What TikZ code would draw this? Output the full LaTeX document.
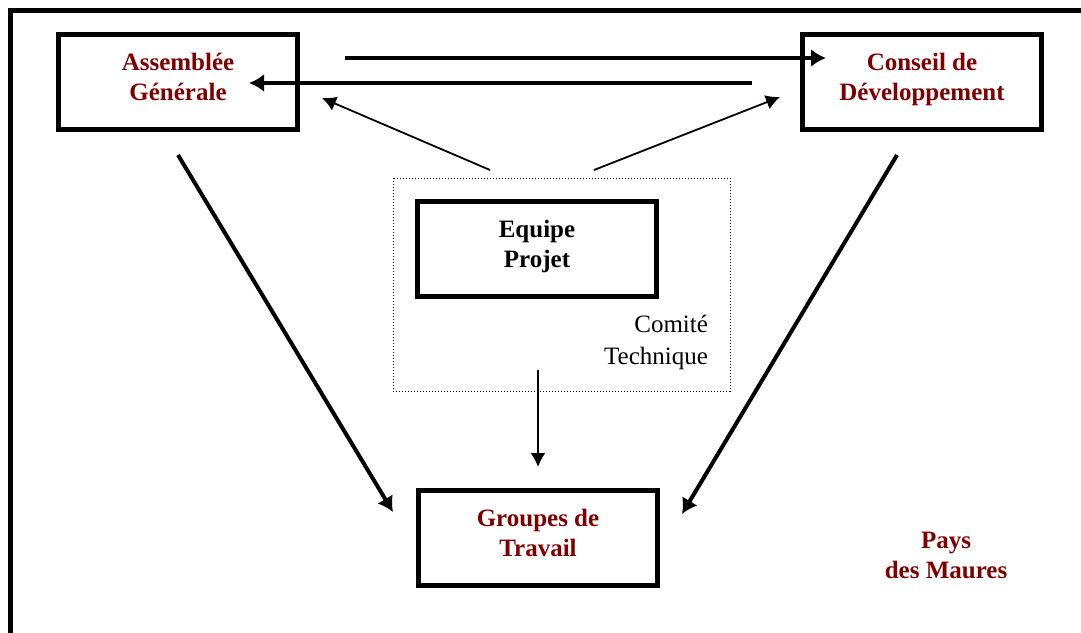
\documentclass[tikz,border=0pt]{standalone}
\usepackage{fontspec}
\setmainfont{Liberation Serif}
\usetikzlibrary{arrows.meta}
\definecolor{darkred}{RGB}{128,0,0}

\begin{document}
\begin{tikzpicture}[x=0.5pt,y=-0.5pt,>={Latex[length=7.5pt,width=9pt]},
	box/.style={draw,line width=2.5pt,minimum width=119.5pt,minimum height=47.5pt,text depth=5pt,align=center,font=\bfseries\fontsize{12.5}{15}\selectfont},
	bigarrow/.style={line width=2pt,->},
	smallarrow/.style={line width=0.9pt,-{Latex[length=7pt,width=7.5pt]}}]
	\clip (0,0) rectangle (1081,632);
	\draw [line width=2.5pt] (10,10) rectangle (1110,660);
	\draw [line width=0.5pt, dash pattern = on 0.5pt off 1pt] (393,178) rectangle (730,391);
	\node [box, text=darkred] (ag) at (178,82) {Assemblée\\Générale};
	\node [box, text=darkred] (cd) at (922,82) {Conseil de\\Développement};
	\node [box] (ep) at (537,249) {Equipe\\Projet};
	\node [box, text=darkred] (gt) at (538,538) {Groupes de\\Travail};
	\node [anchor=east, align=right, font=\fontsize{12.5}{16}\selectfont] (ct) at (715,342) {Comité\\Technique};
	\node [align=center, text=darkred, font=\bfseries\fontsize{12.5}{15}\selectfont] (pm) at (946,555) {Pays\\des Maures};
	% fleches entre AG et CD
	\coordinate (a1) at (345,58); \coordinate (a2) at (826,58);
	\coordinate (b1) at (752,83); \coordinate (b2) at (249,83);
	\draw [bigarrow] (a1) -- (a2);
	\draw [bigarrow] (b1) -- (b2);
	% comite technique
	\coordinate (c1) at (490,170); \coordinate (c2) at (322,98);
	\coordinate (d1) at (594,170); \coordinate (d2) at (780,97);
	\draw [smallarrow] (c1) -- (c2);
	\draw [smallarrow] (d1) -- (d2);
	\coordinate (e1) at (538,370); \coordinate (e2) at (538,467);
	\draw [smallarrow] (e1) -- (e2);
	% vers groupes de travail
	\coordinate (f1) at (178,155); \coordinate (f2) at (393,512);
	\coordinate (g1) at (897,155); \coordinate (g2) at (682,514);
	\draw [bigarrow] (f1) -- (f2);
	\draw [bigarrow] (g1) -- (g2);
\end{tikzpicture}
\end{document}
